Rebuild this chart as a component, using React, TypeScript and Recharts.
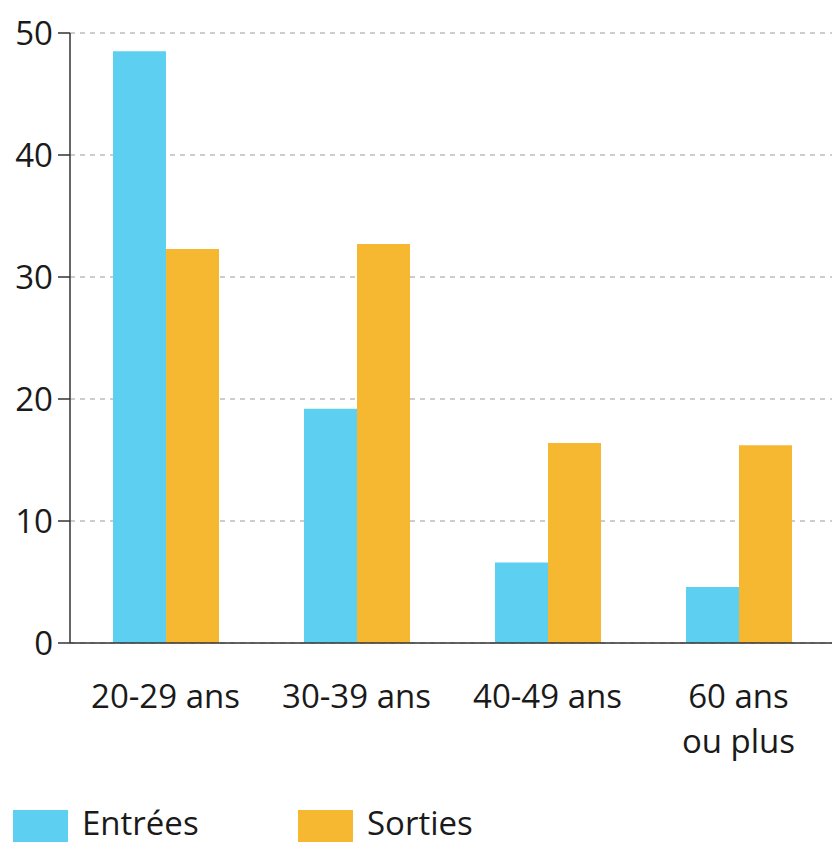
import React from "react";
import { BarChart, Bar, XAxis, YAxis, CartesianGrid, Legend } from "recharts";

const categories = ["20-29 ans", "30-39 ans", "40-49 ans", "60 ans\nou plus"];
const entrees = [48.5, 19.2, 6.6, 4.6];
const sorties = [32.3, 32.7, 16.4, 16.2];
const yTicks = [0, 10, 20, 30, 40, 50];

const data = categories.map((name, i) => ({
  name,
  entrees: entrees[i],
  sorties: sorties[i],
}));

const FONT = "'Open Sans', sans-serif";
const BLUE = "#5DCFF1";
const ORANGE = "#F6B731";

// x tick with manual line break for "60 ans / ou plus"
const AgeTick = ({ x, y, payload }: any) => {
  const lines = String(payload.value).split("\n");
  return (
    <text
      x={x}
      y={y}
      textAnchor="middle"
      fontFamily={FONT}
      fontSize={33}
      fill="#1a1a1a"
    >
      {lines.map((line, i) => (
        <tspan key={i} x={x} dy={i === 0 ? 57 : 45}>
          {line}
        </tspan>
      ))}
    </text>
  );
};

const LegendBox = () => (
  <div style={{ position: "relative", height: 45, fontFamily: FONT }}>
    {[
      { label: "Entrées", color: BLUE, x: 13 },
      { label: "Sorties", color: ORANGE, x: 298 },
    ].map((item) => (
      <div
        key={item.label}
        style={{ position: "absolute", left: item.x, top: 0, display: "flex", alignItems: "flex-start" }}
      >
        <span style={{ display: "inline-block", width: 55, height: 32, marginTop: 10, background: item.color }} />
        <span style={{ fontSize: 33, lineHeight: "normal", marginLeft: 14, color: "#1a1a1a" }}>{item.label}</span>
      </div>
    ))}
  </div>
);

const App = () => (
  <div style={{ position: "absolute", left: 0, top: 0, background: "#fff" }}>
    <BarChart
      width={832}
      height={845}
      data={data}
      margin={{ top: 33, right: -2, left: 0, bottom: 0 }}
      barGap={0}
    >
      <CartesianGrid vertical={false} stroke="#9a9a9a" strokeDasharray="5 5" />
      <XAxis
        dataKey="name"
        tickLine={false}
        stroke="#333"
        strokeWidth={1.5}
        height={157}
        interval={0}
        tick={<AgeTick />}
      />
      <YAxis
        type="number"
        domain={[0, 50]}
        ticks={yTicks}
        width={70}
        tickSize={12}
        tickMargin={5}
        stroke="#333"
        strokeWidth={1.5}
        tick={{ fontFamily: FONT, fontSize: 33, fill: "#1a1a1a" }}
      />
      <Legend verticalAlign="bottom" align="left" content={<LegendBox />} wrapperStyle={{ left: 0, width: 832 }} />
      <Bar dataKey="entrees" name="Entrées" fill={BLUE} barSize={53} isAnimationActive={false} />
      <Bar dataKey="sorties" name="Sorties" fill={ORANGE} barSize={53} isAnimationActive={false} />
    </BarChart>
  </div>
);

export default App;
